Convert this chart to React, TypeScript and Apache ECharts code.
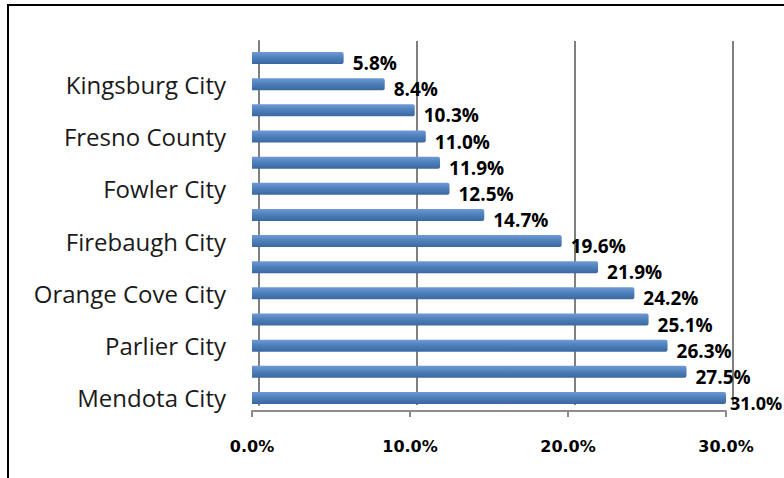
import React, { useEffect, useRef } from "react";
import * as echarts from "echarts";

// Bottom to top (ECharts category y-axis starts at the bottom)
const categories = [
  "Mendota City",
  "unlabeled-1",
  "Parlier City",
  "unlabeled-2",
  "Orange Cove City",
  "unlabeled-3",
  "Firebaugh City",
  "unlabeled-4",
  "Fowler City",
  "unlabeled-5",
  "Fresno County",
  "unlabeled-6",
  "Kingsburg City",
  "unlabeled-7",
];
const values = [31.0, 27.5, 26.3, 25.1, 24.2, 21.9, 19.6, 14.7, 12.5, 11.9, 11.0, 10.3, 8.4, 5.8];
const axisMin = 0;
const axisMax = 30;
const axisInterval = 10;

const FONT = "Open Sans";

export default function App() {
  const ref = useRef<HTMLDivElement>(null);
  useEffect(() => {
    if (!ref.current) return;
    const chart = echarts.init(ref.current, undefined, { renderer: "svg" });
    const seriesData = values.map((v) =>
      v > axisMax
        ? { value: v, label: { distance: 4, fontSize: 18 } }
        : { value: v }
    );
    chart.setOption({
      animation: false,
      backgroundColor: "#ffffff",
      textStyle: { fontFamily: FONT },
      graphic: [
        {
          type: "rect",
          shape: { x: 8, y: 5, width: 800, height: 500 },
          style: { fill: "none", stroke: "#000000", lineWidth: 2 },
          silent: true,
        },
      ],
      grid: [
        { left: 259, top: 41, width: 474, height: 364 },
        { left: 252, top: 45, width: 474, height: 366 },
      ],
      xAxis: [
        {
          gridIndex: 0,
          type: "value",
          min: axisMin,
          max: axisMax,
          interval: axisInterval,
          axisLine: { show: false },
          axisTick: { show: false },
          axisLabel: { show: false },
          splitLine: { show: true, lineStyle: { color: "#7f7f7f", width: 2 } },
        },
        {
          gridIndex: 1,
          type: "value",
          min: axisMin,
          max: axisMax,
          interval: axisInterval,
          axisLine: { show: true, lineStyle: { color: "#8c8c8c", width: 2 } },
          axisTick: { show: true, length: 6, lineStyle: { color: "#8c8c8c", width: 2 } },
          axisLabel: {
            show: true,
            margin: 27,
            color: "#000000",
            fontWeight: "bold",
            fontSize: 16,
            fontFamily: "DejaVu Sans",
            formatter: (v: number) => v.toFixed(1) + "%",
          },
          splitLine: { show: false },
        },
      ],
      yAxis: [
        {
          gridIndex: 0,
          type: "category",
          data: categories,
          axisLine: { show: true, lineStyle: { color: "#7f7f7f", width: 2 } },
          axisTick: { show: false },
          axisLabel: { show: false },
          splitLine: { show: false },
        },
        {
          gridIndex: 1,
          type: "category",
          data: categories,
          axisLine: { show: false },
          axisTick: { show: false },
          axisLabel: {
            show: true,
            interval: 1,
            margin: 26,
            color: "#1a1a1a",
            fontSize: 24,
            fontFamily: FONT,
            padding: [8, 0, 0, 0],
          },
          splitLine: { show: false },
        },
      ],
      series: [
        {
          type: "bar",
          xAxisIndex: 1,
          yAxisIndex: 1,
          data: seriesData,
          barWidth: 12,
          clip: true,
          itemStyle: {
            color: new echarts.graphic.LinearGradient(0, 0, 0, 1, [
              { offset: 0, color: "#6f9ad4" },
              { offset: 0.45, color: "#4f81bd" },
              { offset: 1, color: "#3a679f" },
            ]),
            borderRadius: [0, 2, 2, 0],
          },
          label: {
            show: true,
            position: "right",
            distance: 9,
            offset: [0, 5],
            color: "#000000",
            fontWeight: "bold",
            fontSize: 19,
            fontFamily: FONT,
            formatter: (p: any) => Number(p.value).toFixed(1) + "%",
          },
        },
      ],
    });
    return () => chart.dispose();
  }, []);
  return (
    <div
      ref={ref}
      style={{ position: "fixed", left: 0, top: 0, width: 784, height: 478 }}
    />
  );
}
